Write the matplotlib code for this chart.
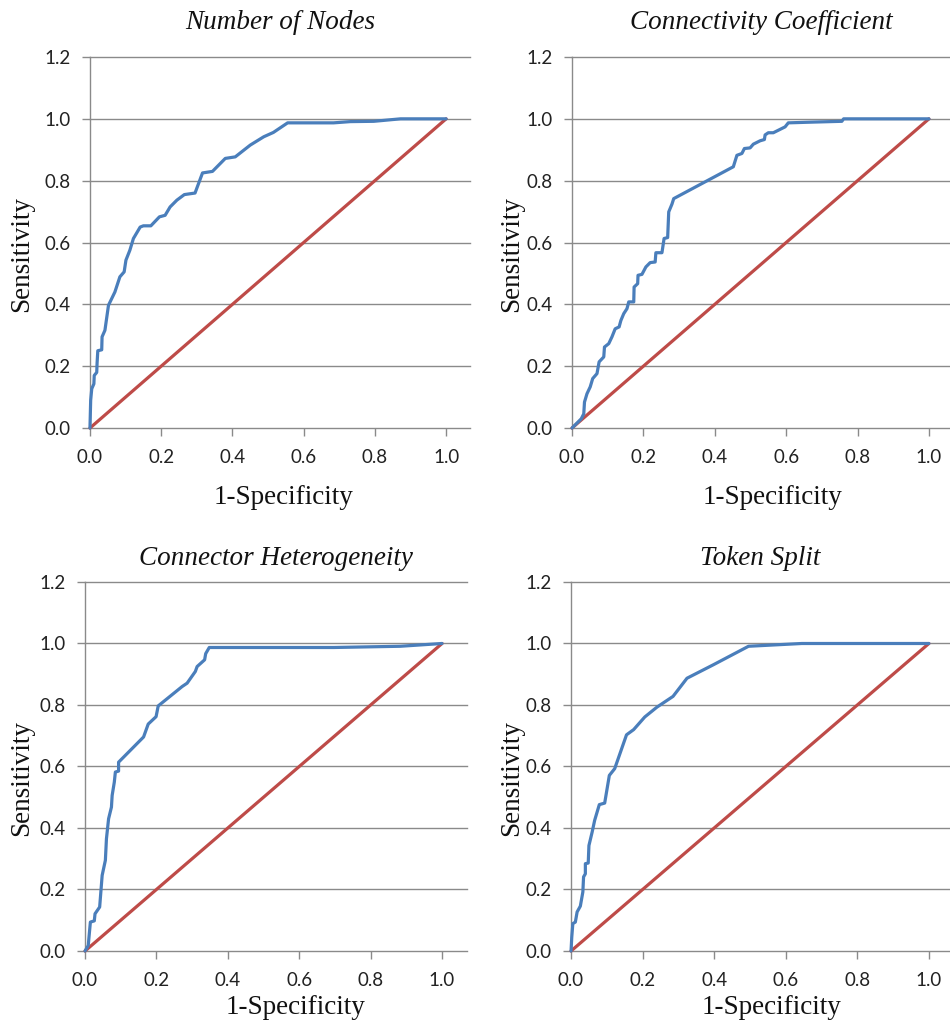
"""
roc_panels.py
-------------
Four ROC curves (Sensitivity vs 1-Specificity) laid out in a 2x2 grid,
with the chance diagonal drawn in each panel.
"""

import matplotlib.pyplot as plt

# ---------------------------
# Data
# ---------------------------
titles = ["Number of Nodes", "Connectivity Coefficient",
          "Connector Heterogeneity", "Token Split"]

y_ticks = [0.0, 0.2, 0.4, 0.6, 0.8, 1.0, 1.2]
x_ticks = [0.0, 0.2, 0.4, 0.6, 0.8, 1.0]

chance_x = [0.0, 1.0]
chance_y = [0.0, 1.0]

nodes_fpr = [0.0, 0.002, 0.005, 0.011, 0.012, 0.019, 0.02, 0.022, 0.033, 0.034,
             0.042, 0.052, 0.07, 0.084, 0.096, 0.101, 0.112, 0.122, 0.141, 0.15,
             0.171, 0.195, 0.211, 0.225, 0.244, 0.265, 0.295, 0.316, 0.344, 0.38,
             0.408, 0.45, 0.488, 0.515, 0.555, 0.684, 0.731, 0.797, 0.872, 1.0]
nodes_tpr = [0.0, 0.09, 0.127, 0.143, 0.17, 0.18, 0.21, 0.25, 0.253, 0.295,
             0.316, 0.397, 0.44, 0.489, 0.505, 0.543, 0.575, 0.613, 0.65, 0.654,
             0.654, 0.683, 0.688, 0.715, 0.737, 0.755, 0.76, 0.825, 0.83, 0.872,
             0.877, 0.915, 0.942, 0.956, 0.987, 0.987, 0.991, 0.992, 1.0, 1.0]

conn_fpr = [0.0, 0.026, 0.033, 0.035, 0.042, 0.051, 0.058, 0.07, 0.076, 0.089,
            0.091, 0.103, 0.112, 0.121, 0.132, 0.137, 0.145, 0.154, 0.159, 0.173,
            0.174, 0.184, 0.185, 0.196, 0.207, 0.219, 0.233, 0.235, 0.252, 0.258,
            0.268, 0.271, 0.28, 0.285, 0.452, 0.462, 0.476, 0.483, 0.499, 0.508,
            0.527, 0.539, 0.541, 0.55, 0.564, 0.597, 0.606, 0.662, 0.756, 0.761, 1.0]
conn_tpr = [0.0, 0.03, 0.046, 0.084, 0.111, 0.133, 0.16, 0.176, 0.214, 0.23,
            0.262, 0.273, 0.295, 0.321, 0.327, 0.348, 0.37, 0.386, 0.408, 0.408,
            0.456, 0.467, 0.494, 0.497, 0.521, 0.535, 0.537, 0.567, 0.567, 0.613,
            0.616, 0.699, 0.724, 0.742, 0.845, 0.882, 0.888, 0.904, 0.906, 0.918,
            0.929, 0.933, 0.948, 0.955, 0.955, 0.974, 0.987, 0.989, 0.992, 1.0, 1.0]

hetero_fpr = [0.0, 0.009, 0.015, 0.026, 0.028, 0.041, 0.048, 0.057, 0.06, 0.066,
              0.074, 0.076, 0.082, 0.085, 0.094, 0.094, 0.164, 0.177, 0.199, 0.205,
              0.272, 0.286, 0.309, 0.314, 0.335, 0.338, 0.348, 0.697, 0.883, 1.0]
hetero_tpr = [0.0, 0.018, 0.094, 0.098, 0.121, 0.143, 0.246, 0.295, 0.365, 0.43,
              0.468, 0.506, 0.549, 0.582, 0.585, 0.614, 0.696, 0.738, 0.762, 0.797,
              0.86, 0.871, 0.909, 0.925, 0.947, 0.967, 0.987, 0.987, 0.991, 1.0]

split_fpr = [0.0, 0.002, 0.005, 0.012, 0.017, 0.026, 0.033, 0.035, 0.04, 0.04,
             0.048, 0.05, 0.059, 0.066, 0.079, 0.094, 0.107, 0.122, 0.155, 0.175,
             0.206, 0.24, 0.285, 0.324, 0.398, 0.496, 0.645, 1.0]
split_tpr = [0.0, 0.045, 0.089, 0.094, 0.127, 0.146, 0.192, 0.241, 0.251, 0.284,
             0.286, 0.343, 0.387, 0.425, 0.476, 0.481, 0.571, 0.593, 0.703, 0.72,
             0.761, 0.793, 0.828, 0.887, 0.931, 0.991, 1.0, 1.0]

curves = [(nodes_fpr, nodes_tpr), (conn_fpr, conn_tpr),
          (hetero_fpr, hetero_tpr), (split_fpr, split_tpr)]

# ---------------------------
# Layout (pixel-matched to a 950x1025 canvas)
# ---------------------------
# [left, bottom, width, height] in figure fractions
rects = [
    [0.0947, 0.5824, 0.4000, 0.3620],
    [0.6021, 0.5824, 0.3979, 0.3620],
    [0.0895, 0.0722, 0.4021, 0.3600],
    [0.6011, 0.0722, 0.3989, 0.3600],
]
x_max = [1.067, 1.059, 1.070, 1.059]
title_y = [1.094, 1.094, 1.065, 1.065]
ylabel_xy = [(-0.179, 0.47), (-0.161, 0.47), (-0.165, 0.47), (-0.158, 0.47)]
xlabel_xy = [(0.51, -0.186), (0.53, -0.186), (0.55, -0.154), (0.53, -0.154)]

BLUE = '#4a7ebb'
RED = '#be4b48'
GRID = '#8a8a8a'
SERIF = 'Liberation Serif'
TICK_FONT = ['Lato', 'DejaVu Sans']

fig = plt.figure(figsize=(9.5, 10.25), dpi=100)

for i, (fpr, tpr) in enumerate(curves):
    ax = fig.add_axes(rects[i])

    # Horizontal gridlines, the bottom one doubles as the x axis
    for yt in y_ticks:
        ax.axhline(yt, color=GRID, lw=1.0, zorder=1, clip_on=False)

    # Chance line and ROC curve
    ax.plot(chance_x, chance_y, color=RED, lw=2.3, zorder=3,
            solid_capstyle='round', clip_on=False)
    ax.plot(fpr, tpr, color=BLUE, lw=2.3, zorder=4, clip_on=False,
            solid_joinstyle='round', solid_capstyle='round')

    ax.set_xlim(0, x_max[i])
    ax.set_ylim(0, 1.2)
    ax.set_xticks(x_ticks)
    ax.set_yticks(y_ticks)
    ax.set_xticklabels([f"{t:.1f}" for t in x_ticks])
    ax.set_yticklabels([f"{t:.1f}" for t in y_ticks])

    # Only the left spine is drawn
    for side in ['top', 'right', 'bottom']:
        ax.spines[side].set_visible(False)
    ax.spines['left'].set_color(GRID)
    ax.spines['left'].set_linewidth(1.0)

    ax.tick_params(axis='both', direction='out', length=6, width=1.0,
                   color=GRID, labelsize=13.5, labelcolor='#222222')
    ax.tick_params(axis='y', pad=8)
    ax.tick_params(axis='x', pad=9)
    for lbl in ax.get_xticklabels() + ax.get_yticklabels():
        lbl.set_family(TICK_FONT)

    # Labels
    ax.set_ylabel("Sensitivity", family=SERIF, fontsize=19.5, color='#111111')
    ax.yaxis.set_label_coords(*ylabel_xy[i])
    ax.yaxis.label.set_va('center')
    ax.set_xlabel("1-Specificity", family=SERIF, fontsize=19.5, color='#111111')
    ax.xaxis.set_label_coords(*xlabel_xy[i])
    ax.xaxis.label.set_va('center')

    ax.text(0.5, title_y[i], titles[i], transform=ax.transAxes,
            ha='center', va='center', family=SERIF, style='italic',
            fontsize=19.5, color='#111111')

fig.savefig("out.png", dpi=100)
